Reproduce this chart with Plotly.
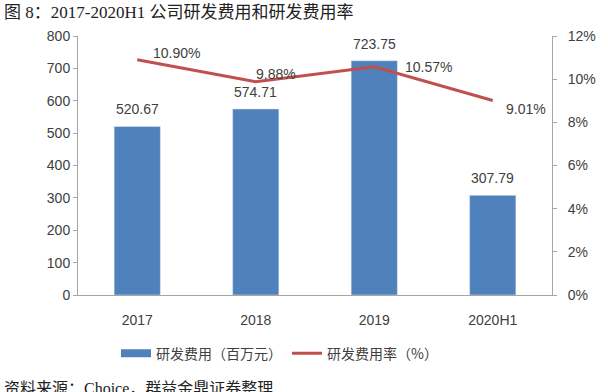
import plotly.graph_objects as go

categories = ["2017", "2018", "2019", "2020H1"]
rd_expense = [520.67, 574.71, 723.75, 307.79]
rd_rate = [10.90, 9.88, 10.57, 9.01]
bar_labels = ["520.67", "574.71", "723.75", "307.79"]
rate_labels = ["10.90%", "9.88%", "10.57%", "9.01%"]
# label offsets (pixels) relative to each line point
label_xshift = [14, 20, 29, 11]
label_yshift = [7, 8, 0, -8]
label_xanchor = ["left", "center", "left", "left"]

BLUE = "#4F81BD"
RED = "#C0504D"
TXT = "#404040"

fig = go.Figure()
fig.add_trace(go.Bar(
    x=categories, y=rd_expense, name="研发费用（百万元）", showlegend=False,
    marker=dict(color=BLUE), width=0.39,
))
# legend proxy for bars (rectangle-like swatch)
fig.add_trace(go.Scatter(
    x=[categories[0]], y=[None], name="研发费用（百万元）", mode="lines",
    line=dict(color=BLUE, width=8), hoverinfo="skip",
))
fig.add_trace(go.Scatter(
    x=categories, y=rd_rate, name="研发费用率（%）", yaxis="y2",
    mode="lines", line=dict(color=RED, width=3),
    cliponaxis=False,
))

annotations = []
for i, (v, t) in enumerate(zip(rd_expense, bar_labels)):
    annotations.append(dict(
        x=i, y=v, xref="x", yref="y", text=t, showarrow=False,
        xanchor="center", yanchor="bottom", yshift=7,
        font=dict(size=14, color=TXT, family="Liberation Sans, Arial"),
    ))
for i, (r, t, xs, ys, xa) in enumerate(zip(rd_rate, rate_labels, label_xshift, label_yshift, label_xanchor)):
    annotations.append(dict(
        x=i, y=r, xref="x", yref="y2", text=t, showarrow=False,
        xanchor=xa, yanchor="middle", xshift=xs, yshift=ys,
        font=dict(size=14, color=TXT, family="Liberation Sans, Arial"),
    ))

annotations += [
    dict(text="图 8：2017-2020H1 公司研发费用和研发费用率", xref="paper", yref="paper",
         x=-76 / 474, y=1.0, yshift=35, xanchor="left", yanchor="top", showarrow=False,
         font=dict(size=17, color="#222222", family="Liberation Serif, Noto Sans CJK SC")),
    dict(text="资料来源：Choice，群益金鼎证券整理", xref="paper", yref="paper",
         x=-76 / 474, y=0, yshift=-83, xanchor="left", yanchor="top", showarrow=False,
         font=dict(size=16, color="#222222", family="Liberation Serif, Noto Sans CJK SC")),
]

fig.update_layout(
    width=608, height=392,
    margin=dict(l=78, r=56, t=36, b=97),
    paper_bgcolor="white", plot_bgcolor="white",
    font=dict(family="Liberation Sans, Noto Sans CJK SC", size=13, color=TXT),
    xaxis=dict(type="category", range=[-0.5, 3.5],
               showline=True, linecolor="#A6A6A6", ticks="",
               ticklabelstandoff=12, tickfont=dict(size=14, color=TXT)),
    yaxis=dict(range=[0, 800], dtick=100, showline=True, linecolor="#A6A6A6",
               ticks="outside", ticklen=4, tickcolor="#A6A6A6", showgrid=False,
               zeroline=False, tickfont=dict(size=14, color=TXT)),
    yaxis2=dict(range=[0, 12], dtick=2, ticksuffix="%", overlaying="y", side="right",
                showline=True, linecolor="#A6A6A6", ticks="outside", ticklen=4,
                tickcolor="#A6A6A6", showgrid=False, zeroline=False,
                ticklabelstandoff=8, tickfont=dict(size=14, color=TXT)),
    legend=dict(orientation="h", x=(116 - 78) / 474, xanchor="left", y=-0.165, yanchor="top",
                font=dict(size=14, family="Noto Sans CJK SC", color=TXT),
                itemwidth=30, traceorder="normal"),
    showlegend=True,
    annotations=annotations,
)

fig.write_html("out.html", config={"displayModeBar": False},
               post_script="document.body.style.margin='0';")
